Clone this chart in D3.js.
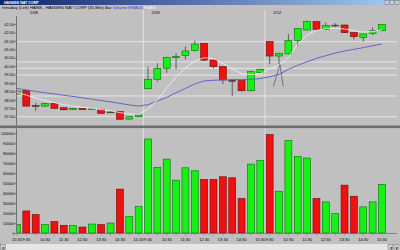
<!DOCTYPE html>
<html>
<head>
<meta charset="utf-8">
<script src="https://cdn.jsdelivr.net/npm/d3@7"></script>
<style>
	body { margin: 0; background: #c0c0c0; }
	svg { display: block; font-family: "Liberation Sans", Arial, sans-serif; }
</style>
</head>
<body>
<div id="chart"></div>
<script>
// 30-min bars: last bar of 2/07, then 2/08, 2/09, 2/12
let times = ["15:30",
	"9:30", "10:00", "10:30", "11:00", "11:30", "12:00", "12:30", "13:00", "13:30", "14:00", "14:30", "15:00", "15:30",
	"9:30", "10:00", "10:30", "11:00", "11:30", "12:00", "12:30", "13:00", "13:30", "14:00", "14:30", "15:00", "15:30",
	"9:30", "10:00", "10:30", "11:00", "11:30", "12:00", "12:30", "13:00", "13:30", "14:00", "14:30", "15:00", "15:30"];

let opens  = [38.35, 38.55, 37.66, 37.63, 37.79, 37.53, 37.43, 37.48, 37.42, 37.44, 37.24, 37.30, 36.86, 37.00,
	38.66, 39.22, 39.87, 40.50, 40.62, 40.92, 41.35, 40.36, 39.97, 39.15, 39.14, 38.54, 39.61,
	41.45, 40.60, 40.72, 41.51, 42.14, 42.64, 42.18, 42.40, 42.44, 41.99, 41.71, 41.95, 42.10];
let highs  = [38.56, 38.57, 37.83, 37.82, 37.80, 37.55, 37.52, 37.50, 37.50, 37.46, 37.32, 37.32, 37.02, 37.12,
	39.97, 40.17, 40.55, 40.76, 41.16, 41.51, 41.37, 40.38, 39.99, 39.22, 39.16, 39.70, 39.85,
	41.47, 40.80, 41.91, 42.26, 42.70, 42.66, 42.60, 42.55, 42.46, 42.01, 41.93, 42.30, 42.50];
let lows   = [38.33, 37.60, 37.36, 37.60, 37.45, 37.38, 37.40, 37.40, 37.40, 37.18, 37.22, 36.82, 36.82, 36.98,
	38.62, 39.08, 39.60, 39.81, 40.40, 40.88, 40.30, 39.87, 38.94, 38.23, 38.50, 38.50, 39.58,
	40.13, 40.13, 40.70, 41.19, 42.12, 42.16, 42.16, 42.30, 41.97, 41.59, 41.45, 41.85, 42.08];
let closes = [38.52, 37.63, 37.64, 37.79, 37.50, 37.41, 37.50, 37.42, 37.48, 37.20, 37.28, 36.85, 37.00, 37.10,
	39.22, 39.87, 40.52, 40.56, 40.90, 41.31, 40.36, 39.97, 39.18, 39.13, 38.54, 39.67, 39.81,
	40.60, 40.76, 41.51, 42.24, 42.64, 42.18, 42.40, 42.43, 41.99, 41.75, 41.91, 42.10, 42.48];
let volumes = [87000, 221000, 185000, 84000, 114000, 77000, 74000, 60000, 90000, 84000, 100000, 440000, 168000, 265000,
	943000, 658000, 741000, 530000, 654000, 624000, 537000, 537000, 564000, 554000, 346000, 691000, 728000,
	987000, 419000, 930000, 768000, 752000, 346000, 312000, 195000, 480000, 369000, 262000, 312000, 487000];

let ema34 = [38.68, 38.59, 38.50, 38.42, 38.35, 38.27, 38.20, 38.12, 38.04, 37.96, 37.88, 37.79, 37.70, 37.63,
	37.71, 37.93, 38.15, 38.42, 38.68, 38.94, 39.12, 39.16, 39.18, 39.20, 39.20, 39.22, 39.26,
	39.37, 39.51, 39.81, 40.05, 40.26, 40.46, 40.62, 40.78, 40.90, 41.00, 41.10, 41.21, 41.31];
let ema8 = [38.45, 38.28, 38.10, 37.96, 37.83, 37.71, 37.63, 37.56, 37.50, 37.42, 37.36, 37.24, 37.17, 37.14,
	37.45, 38.00, 38.70, 39.35, 39.90, 40.30, 40.50, 40.45, 40.15, 39.85, 39.55, 39.50, 39.55,
	39.85, 40.05, 40.50, 41.30, 41.85, 42.12, 42.22, 42.25, 42.20, 42.10, 42.02, 42.05, 42.15];

let days = [{ label: "2/08", start: 1 }, { label: "2/09", start: 14 }, { label: "2/12", start: 27 }];
let priceTicks = [42.5, 42, 41.5, 41, 40.5, 40, 39.5, 39, 38.5, 38, 37.5, 37];
let volumeTicks = [1000000, 900000, 800000, 700000, 600000, 500000, 400000, 300000, 200000, 100000, 0];
let levels = [41.45, 40.25, 39.87, 39.47, 38.23, 37.0];
// hand drawn mark under the 2/12 10:00 bar (bar index, price)
let annotation = [{ bar: 27.4, price: 38.8 }, { bar: 28.1, price: 40.1 }, { bar: 28.45, price: 38.8 }];

function drawChart() {
	let width = 400, height = 250;
	let plotLeft = 17, plotRight = 397;
	let priceTop = 16, priceBottom = 125.5;
	let volTop = 128.5, volBottom = 233;

	let bars = times.map(function (t, i) {
		return { i: i, time: t, o: opens[i], h: highs[i], l: lows[i], c: closes[i], v: volumes[i], up: closes[i] >= opens[i] };
	});

	let svg = d3.select("#chart")
		.append("svg")
		.attr("width", width)
		.attr("height", height);

	let defs = svg.append("defs");
	let grad = defs.append("linearGradient").attr("id", "titlegrad");
	grad.append("stop").attr("offset", "0%").attr("stop-color", "#0a246a");
	grad.append("stop").attr("offset", "100%").attr("stop-color", "#a6caf0");
	defs.append("clipPath").attr("id", "plotclip")
		.append("rect").attr("x", plotLeft).attr("y", 0).attr("width", plotRight - plotLeft).attr("height", height);

	let xScale = d3.scaleBand().domain(d3.range(bars.length)).range([12.26, 386.66]).paddingInner(0.26).paddingOuter(0.13);
	let step = xScale.step();
	function cx(i) { return xScale.range()[0] + (i + 0.5) * step; }
	let yPrice = d3.scaleLinear().domain([37, 42.5]).range([116.7, 24]);
	let yVol = d3.scaleLinear().domain([0, 1000000]).range([volBottom, 133.3]);

	// title bar
	svg.append("rect").attr("x", 0).attr("y", 0).attr("width", width).attr("height", 5).attr("fill", "url(#titlegrad)");
	svg.append("text").attr("x", 4).attr("y", 3.9).attr("fill", "#fff").style("font-size", "3.6px").style("font-weight", "bold")
		.text("HANSEN NAT CORP");
	[385, 390, 395].forEach(function (bx) {
		svg.append("rect").attr("x", bx).attr("y", 0.7).attr("width", 4).attr("height", 3.5)
			.attr("fill", "#d4d0c8").attr("stroke", "#404040").attr("stroke-width", 0.3);
	});

	// header line
	let head = svg.append("text").attr("x", 2).attr("y", 8.8).style("font-size", "4.3px").attr("fill", "#000");
	head.append("tspan").text("Intraday (Left)  HANS - HANSEN NAT CORP (30-Min)  Bar  ");
	head.append("tspan").attr("fill", "#3030c0").text("Volume  ");
	head.append("tspan").attr("fill", "#4040d0").text("EMA34  ");
	head.append("tspan").attr("fill", "#f4f4f4").text("EMA8");

	// day labels
	svg.selectAll(".day")
		.data(days)
		.enter().append("text")
		.attr("class", "day")
		.attr("x", function (d) { return cx(d.start) + 3.5; })
		.attr("y", 13.6)
		.style("font-size", "4.2px")
		.text(function (d) { return d.label; });

	// price levels
	svg.append("g").selectAll("line")
		.data(levels)
		.enter().append("line")
		.attr("x1", plotLeft).attr("x2", plotRight)
		.attr("y1", function (d) { return yPrice(d); })
		.attr("y2", function (d) { return yPrice(d); })
		.attr("stroke", "#e6e6e6").attr("stroke-width", 1);

	// day separators
	svg.append("g").selectAll("line")
		.data(days.filter(function (d) { return d.start > 1; }))
		.enter().append("line")
		.attr("x1", function (d) { return cx(d.start) - step / 2; })
		.attr("x2", function (d) { return cx(d.start) - step / 2; })
		.attr("y1", 10).attr("y2", volBottom)
		.attr("stroke", "#ececec").attr("stroke-width", 0.8);

	// panel separator
	svg.append("rect").attr("x", 0).attr("y", priceBottom).attr("width", width).attr("height", 2.6).attr("fill", "#6e6e6e");

	let plot = svg.append("g").attr("clip-path", "url(#plotclip)");

	// candles
	let candles = plot.append("g").selectAll("g")
		.data(bars)
		.enter().append("g");
	candles.append("line")
		.attr("x1", function (d) { return cx(d.i); })
		.attr("x2", function (d) { return cx(d.i); })
		.attr("y1", function (d) { return yPrice(d.h); })
		.attr("y2", function (d) { return yPrice(d.l); })
		.attr("stroke", "#303030").attr("stroke-width", 0.7);
	candles.append("rect")
		.attr("x", function (d) { return xScale(d.i); })
		.attr("width", xScale.bandwidth())
		.attr("y", function (d) { return yPrice(Math.max(d.o, d.c)); })
		.attr("height", function (d) { return Math.max(0.8, Math.abs(yPrice(d.o) - yPrice(d.c))); })
		.attr("fill", function (d) { return d.up ? "#18f018" : "#f01010"; })
		.attr("stroke", function (d) {
			if (Math.abs(d.o - d.c) < 0.05) return "#303030";
			return d.up ? "#087008" : "#700808";
		})
		.attr("stroke-width", 0.6);

	// moving averages
	let line = d3.line()
		.x(function (d, i) { return cx(i); })
		.y(function (d) { return yPrice(d); });
	plot.append("path").datum(ema34).attr("d", line)
		.attr("fill", "none").attr("stroke", "#6464c8").attr("stroke-width", 1);
	plot.append("path").datum(ema8).attr("d", line)
		.attr("fill", "none").attr("stroke", "#f2f2f2").attr("stroke-width", 0.8);

	// annotation
	plot.append("path").datum(annotation)
		.attr("d", d3.line().x(function (d) { return cx(d.bar); }).y(function (d) { return yPrice(d.price); }))
		.attr("fill", "none").attr("stroke", "#505068").attr("stroke-width", 0.7);

	// volume bars
	plot.append("g").selectAll("rect")
		.data(bars)
		.enter().append("rect")
		.attr("x", function (d) { return xScale(d.i); })
		.attr("width", xScale.bandwidth())
		.attr("y", function (d) { return yVol(d.v); })
		.attr("height", function (d) { return volBottom - yVol(d.v); })
		.attr("fill", function (d) { return d.up ? "#18f018" : "#f01010"; })
		.attr("stroke", function (d) { return d.up ? "#087008" : "#700808"; })
		.attr("stroke-width", 0.6);

	// axes
	let priceAxis = svg.append("g")
		.attr("transform", "translate(" + (plotLeft - 0.5) + ",0)")
		.call(d3.axisLeft(yPrice).tickValues(priceTicks).tickFormat(d3.format(".2f")).tickSize(2).tickSizeOuter(0));
	let volAxis = svg.append("g")
		.attr("transform", "translate(" + (plotLeft - 0.5) + ",0)")
		.call(d3.axisLeft(yVol).tickValues(volumeTicks).tickFormat(d3.format("d")).tickSize(2).tickSizeOuter(0));
	[priceAxis, volAxis].forEach(function (ax) {
		ax.select(".domain").attr("stroke", "#707070");
		ax.selectAll(".tick line").attr("stroke", "#707070");
		ax.selectAll("text").attr("x", -2.2).style("font-size", "4px").style("font-family", "Liberation Sans, Arial, sans-serif").attr("fill", "#000");
	});
	volAxis.selectAll("text").style("font-size", "3.4px");
	priceAxis.select(".domain").attr("d", "M0," + priceTop + "V" + priceBottom);
	volAxis.select(".domain").attr("d", "M0," + volTop + "V" + volBottom);

	// time axis
	let timeAxis = svg.append("g");
	timeAxis.append("line").attr("x1", plotLeft).attr("x2", plotRight)
		.attr("y1", volBottom + 0.5).attr("y2", volBottom + 0.5).attr("stroke", "#707070").attr("stroke-width", 0.8);
	timeAxis.selectAll(".tick")
		.data(bars)
		.enter().append("line")
		.attr("x1", function (d) { return cx(d.i); })
		.attr("x2", function (d) { return cx(d.i); })
		.attr("y1", volBottom + 0.5).attr("y2", volBottom + 2.5)
		.attr("stroke", "#707070").attr("stroke-width", 0.5);
	timeAxis.selectAll("text")
		.data(bars.filter(function (d) { return d.time.slice(-2) === "30"; }))
		.enter().append("text")
		.attr("x", function (d) { return cx(d.i); })
		.attr("y", 241.3)
		.attr("text-anchor", "middle")
		.style("font-size", "4px")
		.text(function (d) { return d.time; });

	// bottom scroll bar
	svg.append("rect").attr("x", 0).attr("y", 244).attr("width", width).attr("height", 6).attr("fill", "#e6e6e6");
	[[0.5, "\u25C2"], [388, "\u25C2"], [394, "\u25B8"]].forEach(function (b) {
		svg.append("rect").attr("x", b[0]).attr("y", 244.5).attr("width", 5).attr("height", 5)
			.attr("fill", "#d4d0c8").attr("stroke", "#505050").attr("stroke-width", 0.4);
		svg.append("text").attr("x", b[0] + 2.5).attr("y", 248.6).attr("text-anchor", "middle")
			.style("font-size", "4px").text(b[1]);
	});
}

drawChart();
</script>
</body>
</html>
